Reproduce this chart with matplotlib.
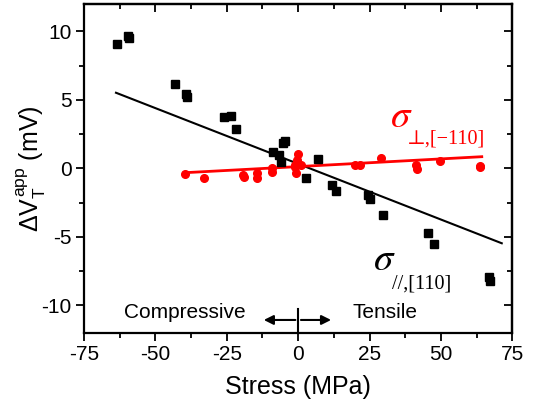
import numpy as np
import matplotlib
matplotlib.use("Agg")
import matplotlib.pyplot as plt
from matplotlib.ticker import MultipleLocator

plt.rcParams['font.family'] = ['Liberation Sans', 'DejaVu Sans']
plt.rcParams['axes.unicode_minus'] = False
plt.rcParams['mathtext.fontset'] = 'custom'
plt.rcParams['mathtext.rm'] = 'Liberation Sans'
plt.rcParams['mathtext.it'] = 'Liberation Sans'
plt.rcParams['mathtext.bf'] = 'Liberation Sans:bold'

# sigma parallel to [110] (black squares)
par_stress = [-63.6, -59.6, -59.4, -43.0, -39.4, -38.9, -26.0, -23.6, -21.9,
              -8.7, -6.6, -6.1, -5.4, -4.5, 2.7, 6.9, 11.7, 13.2, 24.6, 25.1,
              29.8, 45.6, 47.6, 66.8, 67.2]
par_dv = [9.07, 9.66, 9.5, 6.18, 5.4, 5.2, 3.72, 3.82, 2.89,
          1.19, 0.95, 0.48, 1.82, 2.01, -0.73, 0.68, -1.22, -1.63, -1.95, -2.26,
          -3.41, -4.7, -5.53, -7.96, -8.25]
par_fit_x = [-63.8, 71.3]
par_fit_y = [5.52, -5.47]

# sigma perpendicular, [-110] (red circles)
perp_stress = [-39.7, -33.0, -19.2, -19.0, -14.5, -14.5, -9.3, -9.2, -1.1,
               -0.8, 0.0, -0.3, -1.1, 0.9, 19.9, 21.6, 28.9, 41.3, 41.7,
               49.7, 63.7, 63.7]
perp_dv = [-0.42, -0.69, -0.49, -0.6, -0.37, -0.73, 0.04, -0.25, 0.24,
           -0.32, 1.04, 0.6, 0.12, 0.24, 0.24, 0.24, 0.73, 0.24, -0.07,
           0.53, 0.07, 0.2]
perp_fit_x = [-39.9, 64.3]
perp_fit_y = [-0.32, 0.85]

xticks = [-75, -50, -25, 0, 25, 50, 75]
yticks = [-10, -5, 0, 5, 10]

fig = plt.figure(figsize=(5.33, 4.11), dpi=100)
ax = fig.add_axes([0.1576, 0.1905, 0.8036, 0.7998])

ax.plot(par_fit_x, par_fit_y, color='black', lw=1.5)
ax.plot(perp_fit_x, perp_fit_y, color='red', lw=2)
ax.plot(par_stress, par_dv, 's', color='black', ms=5.5, mec='black')
ax.plot(perp_stress, perp_dv, 'o', color='red', ms=5.5, mec='red')

ax.set_xlim(-75, 75)
ax.set_ylim(-12, 12)
ax.set_xticks(xticks)
ax.set_yticks(yticks)
ax.xaxis.set_minor_locator(MultipleLocator(12.5))
ax.yaxis.set_minor_locator(MultipleLocator(2.5))
ax.tick_params(which='major', direction='out', length=6, width=1.3,
               labelsize=15, pad=3)
ax.tick_params(which='minor', direction='out', length=3.5, width=1.3)
for s in ax.spines.values():
    s.set_linewidth(1.6)

# mirrored inward ticks on top and right
top = ax.secondary_xaxis('top')
top.set_xticks(xticks)
top.xaxis.set_minor_locator(MultipleLocator(12.5))
top.tick_params(which='major', direction='in', length=6, width=1.3, labeltop=False)
top.tick_params(which='minor', direction='in', length=3.5, width=1.3)
right = ax.secondary_yaxis('right')
right.set_yticks(yticks)
right.yaxis.set_minor_locator(MultipleLocator(2.5))
right.tick_params(which='major', direction='in', length=6, width=1.3, labelright=False)
right.tick_params(which='minor', direction='in', length=3.5, width=1.3)
for a in (top, right):
    for s in a.spines.values():
        s.set_linewidth(1.6)

ax.set_xlabel('Stress (MPa)', fontsize=18, labelpad=8)
ax.set_ylabel(r'$\Delta V_{T}^{app}$ (mV)', fontsize=18, labelpad=-4.5)

serif = ['Liberation Serif', 'DejaVu Serif']
ax.text(32.2, 3.0, r'$\sigma$', color='red', fontsize=28,
        ha='left', va='baseline', math_fontfamily='stix')
ax.text(38.1, 1.85, '\u22a5,[\u2212110]', color='red', fontsize=14.5,
        ha='left', va='baseline', family=serif)
ax.text(26.2, -7.42, r'$\sigma$', color='black', fontsize=28,
        ha='left', va='baseline', math_fontfamily='stix')
ax.text(33.0, -8.74, '//,[110]', color='black', fontsize=14.5,
        ha='left', va='baseline', family=serif)

ax.text(-39.7, -10.55, 'Compressive', fontsize=15, ha='center', va='center')
ax.text(30.4, -10.55, 'Tensile', fontsize=15, ha='center', va='center')
arrow = dict(arrowstyle='-|>', lw=1.5, color='black', mutation_scale=14)
ax.annotate('', xy=(-13, -11.07), xytext=(0, -11.07), arrowprops=arrow)
ax.annotate('', xy=(12.5, -11.07), xytext=(0, -11.07), arrowprops=arrow)
ax.plot([0, 0], [-10.3, -12], color='black', lw=1.5, clip_on=False)

fig.savefig('out.png', dpi=100)
